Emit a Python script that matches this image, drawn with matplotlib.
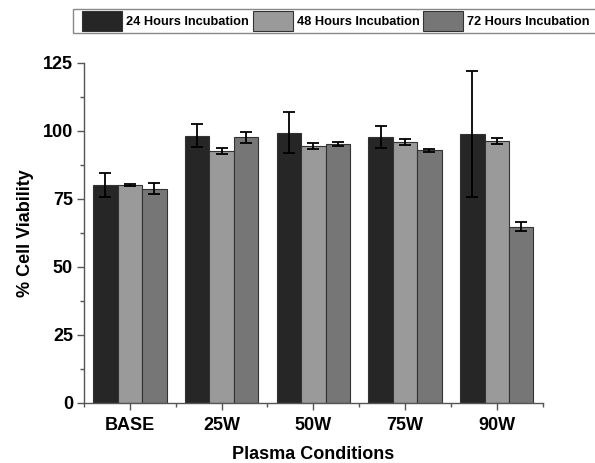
import matplotlib
matplotlib.use("Agg")
import matplotlib.pyplot as plt
import numpy as np
from matplotlib.ticker import MultipleLocator, FixedLocator
from matplotlib.patches import Rectangle

plt.rcParams['font.family'] = ['Liberation Sans', 'DejaVu Sans']
plt.rcParams['font.weight'] = 'bold'

categories = ["BASE", "25W", "50W", "75W", "90W"]
series_names = ["24 Hours Incubation", "48 Hours Incubation", "72 Hours Incubation"]
vals_24 = [80.0, 98.2, 99.3, 97.7, 98.7]
err_24 = [4.5, 4.3, 7.6, 3.9, 23.2]
vals_48 = [80.0, 92.5, 94.4, 95.8, 96.2]
err_48 = [0.3, 1.2, 1.2, 1.0, 1.0]
vals_72 = [78.7, 97.6, 95.1, 92.8, 64.7]
err_72 = [2.0, 2.0, 0.8, 0.5, 1.6]
colors = ["#262626", "#9a9a9a", "#767676"]

W, H = 595, 463
fig = plt.figure(figsize=(W/100, H/100), dpi=100)
ax = fig.add_axes([84/W, 1-402.7/H, (542.6-84)/W, (402.7-62.7)/H])

x = np.arange(1, len(categories)+1)
w = 0.8/3
handles = []
for i, (v, e, c, n) in enumerate(zip([vals_24, vals_48, vals_72], [err_24, err_48, err_72], colors, series_names)):
    b = ax.bar(x + (i-1)*w, v, w, color=c, edgecolor="#333333", linewidth=0.8, label=n,
               yerr=e, error_kw=dict(ecolor="black", elinewidth=1.3, capsize=4, capthick=1.3))
    handles.append(b)

ax.set_xlim(0.5, 5.5)
ax.set_ylim(0, 125)
ax.set_xticks(x)
ax.set_xticklabels(categories, fontsize=13, fontweight='bold')
ax.xaxis.set_minor_locator(FixedLocator(np.arange(0.5, 5.6, 1.0)))
ax.yaxis.set_major_locator(MultipleLocator(25))
ax.yaxis.set_minor_locator(MultipleLocator(12.5))
for lab in ax.get_yticklabels():
    lab.set_fontsize(13)
    lab.set_fontweight('bold')
ax.tick_params(axis='both', which='major', direction='out', length=5, width=1, color='#555555', pad=3)
ax.tick_params(axis='both', which='minor', direction='out', length=3, width=1, color='#555555')
ax.tick_params(axis='x', which='major', pad=5)
for s in ['top', 'right']:
    ax.spines[s].set_visible(False)
for s in ['left', 'bottom']:
    ax.spines[s].set_color('#555555')
    ax.spines[s].set_linewidth(1)

ax.set_xlabel("Plasma Conditions", fontsize=13, fontweight='bold', labelpad=9)
ax.set_ylabel("% Cell Viability", fontsize=13, fontweight='bold', labelpad=6)

fs = 9.2
leg = fig.legend(handles=handles, labels=series_names, loc='upper left',
                 bbox_to_anchor=(78.5/W, 1-7/H), ncol=3,
                 prop=dict(weight='bold', size=fs),
                 handlelength=3.13, handleheight=2.03, handletextpad=0.3,
                 columnspacing=0.3, borderpad=0.3, borderaxespad=0,
                 frameon=False)
fig.patches.append(Rectangle((72.7/W, 1-33/H), (600-72.7)/W, 24/H, transform=fig.transFigure,
                             fill=False, edgecolor='#888888', linewidth=1))

fig.savefig("out.png", dpi=100)
